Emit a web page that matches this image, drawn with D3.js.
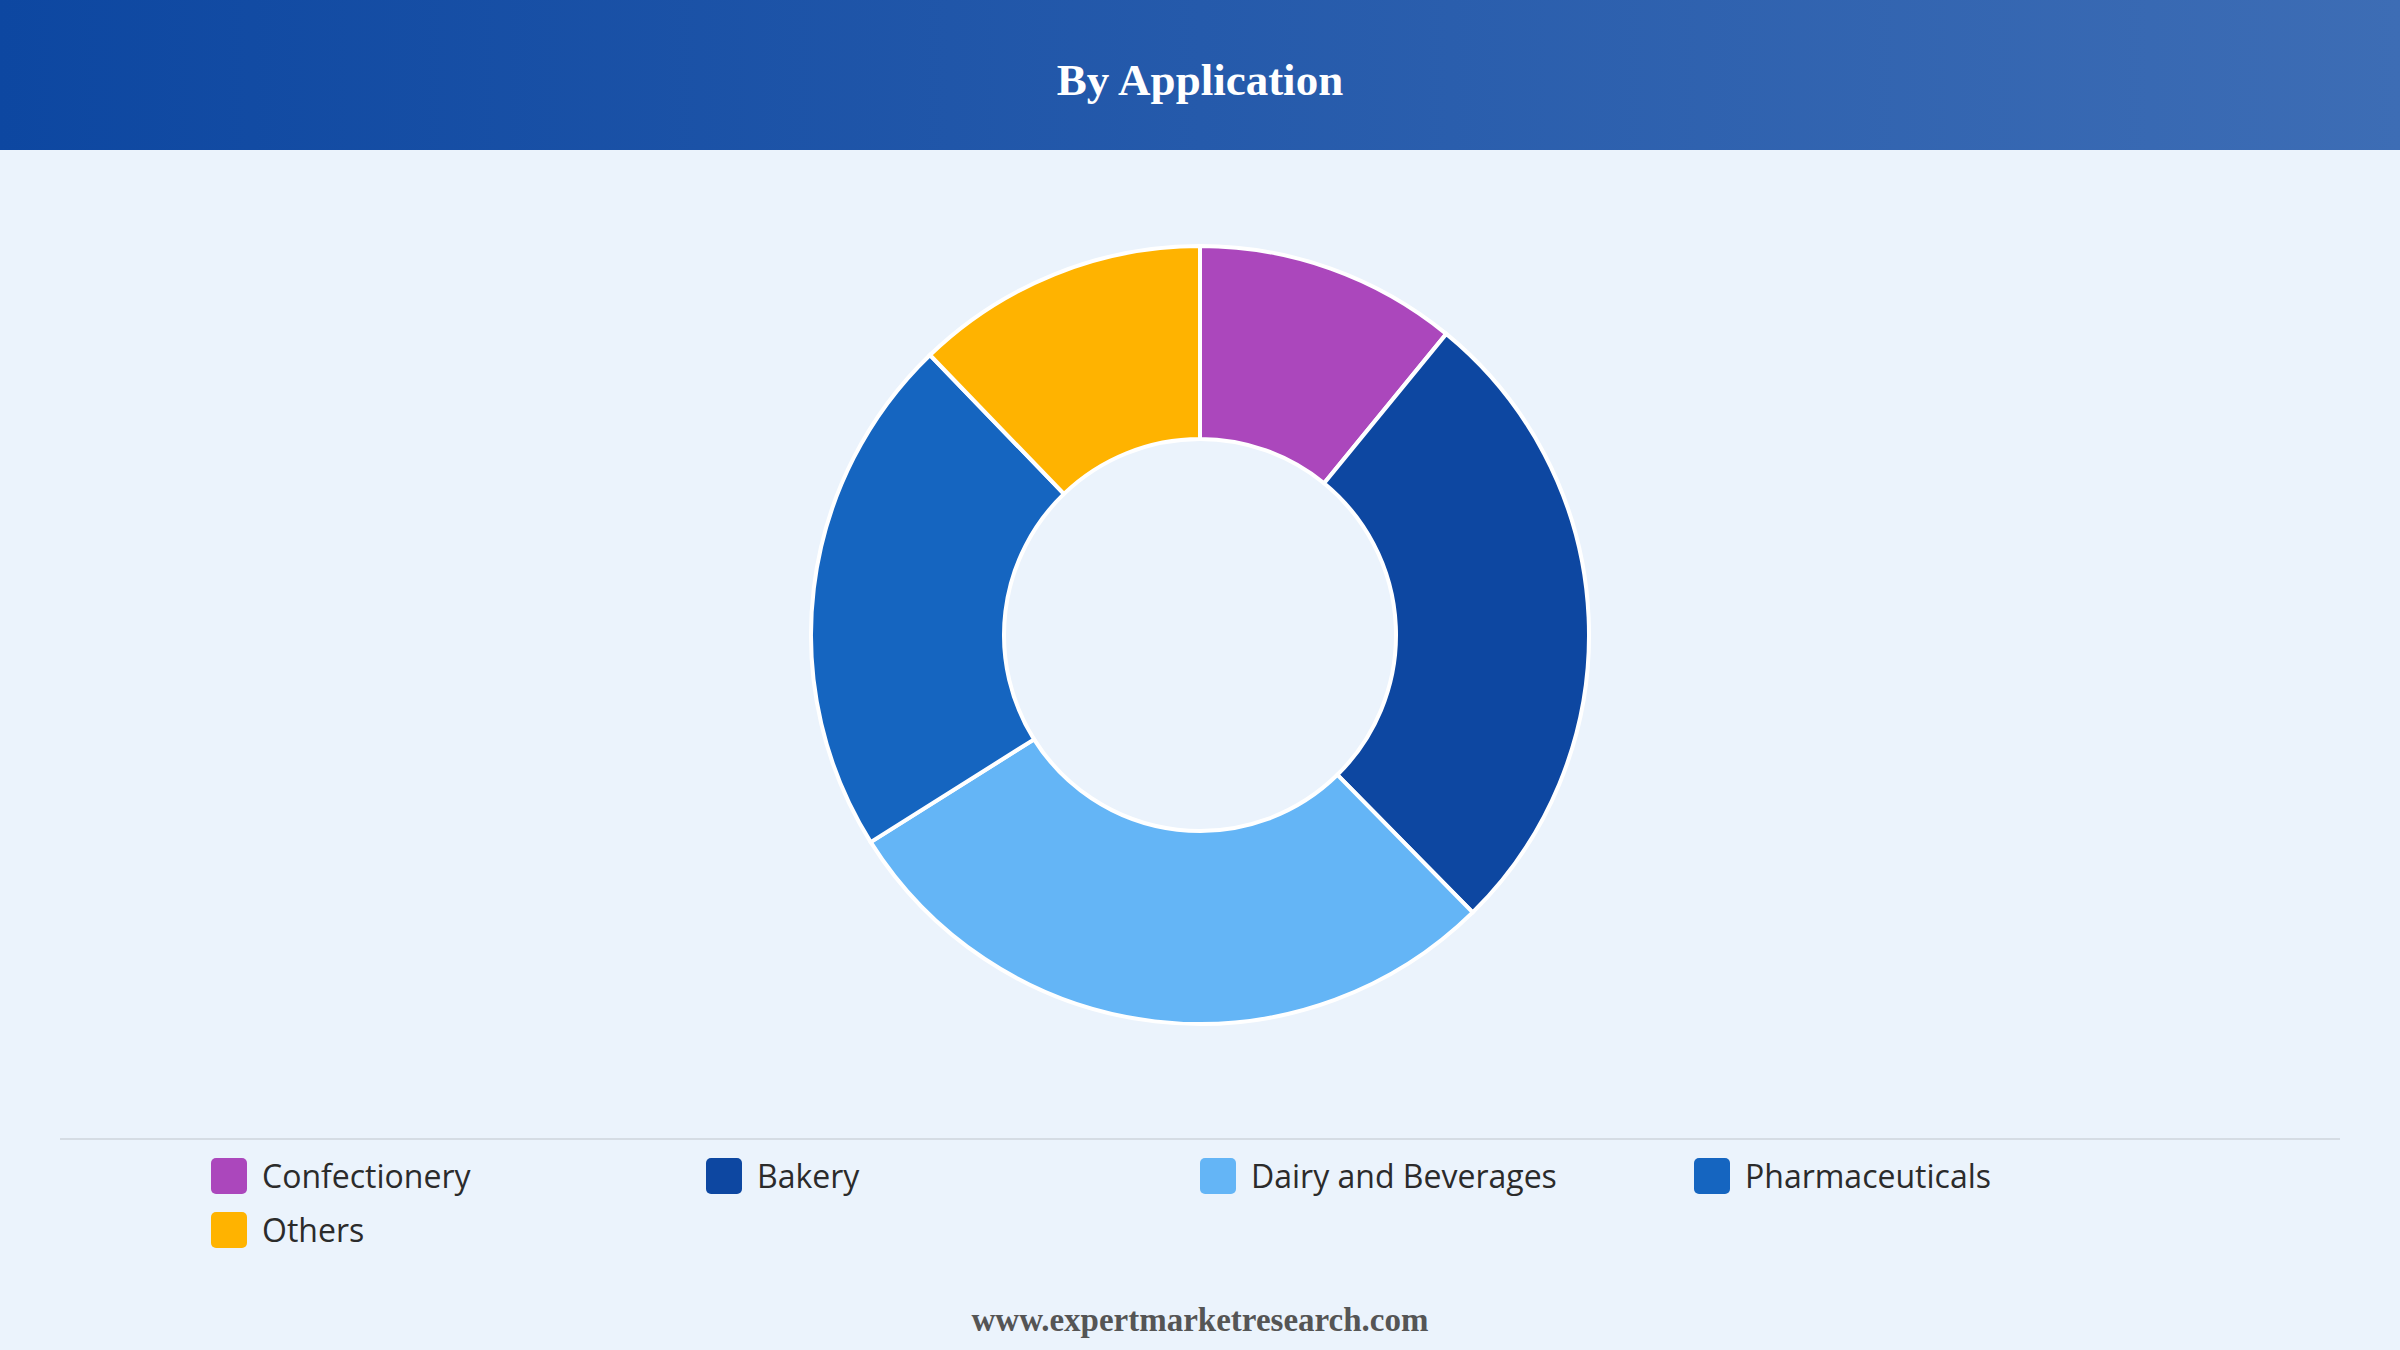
<!DOCTYPE html>
<html><head><meta charset="utf-8">
<script src="https://cdn.jsdelivr.net/npm/d3@7"></script>
<style>body{margin:0;background:#EBF3FC;}svg{display:block}</style>
</head><body>
<svg id="c" width="2400" height="1350"></svg>
<script>
const categories = ["Confectionery","Bakery","Dairy and Beverages","Pharmaceuticals","Others"];
const values = [10.9, 26.7, 28.4, 21.7, 12.2];
const colors = ["#AB47BC","#0D47A1","#64B5F6","#1565C0","#FFB300"];

const svg = d3.select("#c");
const defs = svg.append("defs");
const g = defs.append("linearGradient").attr("id","hg");
g.append("stop").attr("offset","0%").attr("stop-color","#0D47A1");
g.append("stop").attr("offset","100%").attr("stop-color","#3D6DB5");
svg.append("rect").attr("width",2400).attr("height",1350).attr("fill","#EBF3FC");
svg.append("rect").attr("width",2400).attr("height",150).attr("fill","url(#hg)");
svg.append("text").attr("x",1200).attr("y",95).attr("text-anchor","middle")
  .attr("font-family","Liberation Serif, serif").attr("font-weight","bold")
  .attr("font-size",45).attr("fill","#fff").text("By Application");

const pie = d3.pie().sort(null).value(d=>d)(values);
const arc = d3.arc().innerRadius(196).outerRadius(389);
svg.append("g").attr("transform","translate(1200,635)")
  .selectAll("path").data(pie).join("path")
  .attr("d",arc).attr("fill",(d,i)=>colors[i])
  .attr("stroke","#fff").attr("stroke-width",4);

svg.append("line").attr("x1",60).attr("x2",2340).attr("y1",1139).attr("y2",1139)
  .attr("stroke","#D5DCE4").attr("stroke-width",2);
const cols=[211,706,1200,1694];
const lg = svg.append("g").selectAll("g").data(categories).join("g")
  .attr("transform",(d,i)=>`translate(${cols[i%4]},${1176+Math.floor(i/4)*54})`);
lg.append("rect").attr("x",0).attr("y",-18).attr("width",36).attr("height",36).attr("rx",5)
  .attr("fill",(d,i)=>colors[i]);
lg.append("text").attr("x",51).attr("y",12).attr("font-family","Open Sans, sans-serif")
  .attr("font-size",32).attr("font-weight",500).attr("fill","#2b2b2b").text(d=>d);

svg.append("text").attr("x",1200).attr("y",1331).attr("text-anchor","middle")
  .attr("font-family","Liberation Serif, serif").attr("font-weight","bold")
  .attr("font-size",33).attr("fill","#555").text("www.expertmarketresearch.com");
</script>
</body></html>
